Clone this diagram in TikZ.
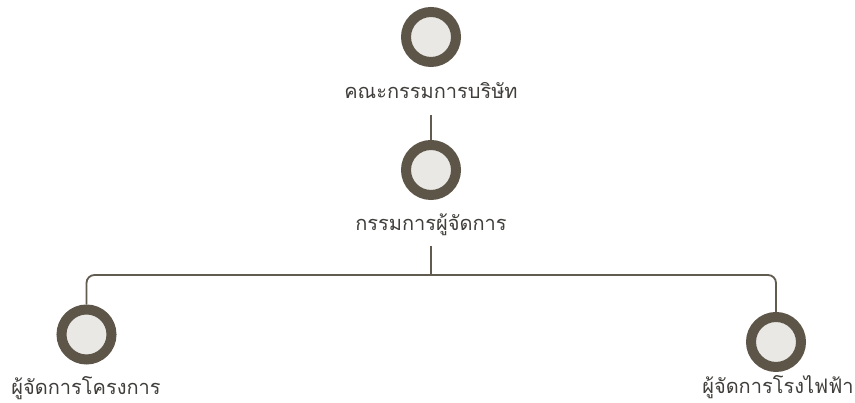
\documentclass[tikz,border=0pt]{standalone}
\usepackage{fontspec}
\usepackage{xcolor}
\usetikzlibrary{calc}
\newfontfamily\thaifont[Script=Thai]{Loma}
\definecolor{ringbrown}{RGB}{92,85,72}
\definecolor{discfill}{RGB}{233,232,229}
\definecolor{linkgray}{RGB}{98,92,80}
\definecolor{labelgray}{RGB}{64,62,58}
\tikzset{post/.style={circle, draw=ringbrown, fill=discfill, line width=10pt, minimum size=50pt, inner sep=0pt}}
\tikzset{role/.style={font=\thaifont\fontsize{20}{24}\selectfont, text=labelgray, inner sep=0pt}}
\tikzset{link/.style={draw=linkgray, line width=1.8pt}}

\begin{document}
\begin{tikzpicture}[x=1pt, y=1pt]
\useasboundingbox[fill=white] (0, 0) rectangle (855, 403);
\node[post] (board) at (431, 366) {};
\node[role] (lblboard) at (431, 312) {คณะกรรมการบริษัท};
\node[post] (md) at (431, 233) {};
\node[role] (lblmd) at (431, 178) {กรรมการผู้จัดการ};
\node[post] (pm) at (86.5, 68.5) {};
\node[role] (lblpm) at (86, 15) {ผู้จัดการโครงการ};
\node[post] (ppm) at (776, 61) {};
\node[role] (lblppm) at (778, 16) {ผู้จัดการโรงไฟฟ้า};
\coordinate (bus) at (431, 128);
\draw[link, shorten <=16pt] (lblboard.south) -- (md.north);
\draw[link, shorten <=10pt] (lblmd.south) -- (bus);
\draw[link, rounded corners=8pt] (pm.north) |- (bus) -| (ppm.north);
\end{tikzpicture}
\end{document}
